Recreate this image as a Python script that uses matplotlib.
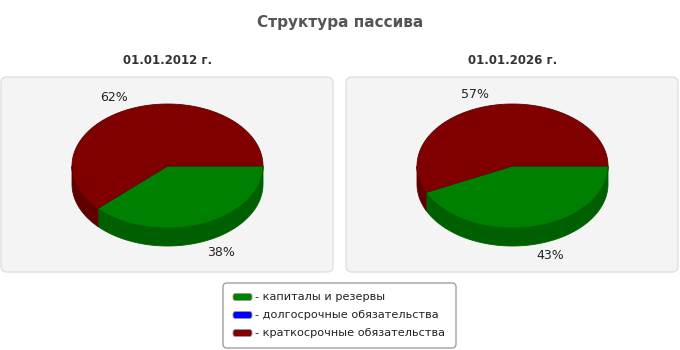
import numpy as np
import matplotlib
matplotlib.use("Agg")
import matplotlib.pyplot as plt
from matplotlib.patches import Polygon, FancyBboxPatch

# data
categories = ["капиталы и резервы", "долгосрочные обязательства", "краткосрочные обязательства"]
colors = ["#008000", "#0000ff", "#800000"]
side_colors = ["#005f00", "#0000a0", "#5f0000"]
dates = ["01.01.2012 г.", "01.01.2026 г."]
shares_2012 = [38, 0, 62]
shares_2026 = [43, 0, 57]
title = "Структура пассива"

plt.rcParams["font.family"] = ["DejaVu Sans"]

fig = plt.figure(figsize=(6.8, 3.5), dpi=100)
ax = fig.add_axes([0, 0, 1, 1])
ax.set_xlim(0, 680)
ax.set_ylim(350, 0)
ax.axis("off")


def arc(cx, cy, rx, ry, a0, a1, n=100):
    t = np.linspace(a0, a1, n)
    return np.column_stack([cx + rx * np.cos(t), cy + ry * np.sin(t)])


def draw_pie(ax, cx, cy, values, rx=95.5, ry=62, depth=18):
    total = float(sum(values))
    angles = np.cumsum([0] + [v / total * 2 * np.pi for v in values])
    # side walls (front half only)
    for i, v in enumerate(values):
        if v == 0:
            continue
        s0, s1 = max(angles[i], 0), min(angles[i + 1], np.pi)
        if s1 <= s0:
            continue
        top = arc(cx, cy, rx, ry, s0, s1)
        bot = top[::-1] + [0, depth]
        ax.add_patch(Polygon(np.vstack([top, bot]), closed=True,
                             fc=side_colors[i], ec=side_colors[i], lw=0.6))
    # top faces
    for i, v in enumerate(values):
        if v == 0:
            continue
        pts = np.vstack([[cx, cy], arc(cx, cy, rx, ry, angles[i], angles[i + 1])])
        ax.add_patch(Polygon(pts, closed=True, fc=colors[i], ec=side_colors[i], lw=0.6))
    # percent labels
    for i, v in enumerate(values):
        if v == 0:
            continue
        mid = (angles[i] + angles[i + 1]) / 2
        c, s = np.cos(mid), np.sin(mid)
        lx = cx + 1.13 * rx * c
        ly = cy + 1.18 * ry * s + (depth if s > 0 else 0)
        ax.text(lx, ly, "%d%%" % v, ha="left" if c > 0 else "right",
                va="center", fontsize=9, color="#222222")


fig.text(0.5, 1 - 22 / 350, title, ha="center", va="center",
         fontsize=11, fontweight="bold", color="#555555")

for k, (date, vals, cx) in enumerate(zip(dates, [shares_2012, shares_2026], [167.5, 512.5])):
    x0 = 1 if k == 0 else 346
    ax.add_patch(FancyBboxPatch((x0, 77), 332, 195,
                                boxstyle="round,pad=0,rounding_size=6",
                                fc="#f4f4f4", ec="#e0e0e0", lw=1))
    ax.text(cx, 60, date, ha="center", va="center", fontsize=8.5,
            fontweight="bold", color="#333333")
    draw_pie(ax, cx, 166, vals)

# legend
ax.add_patch(FancyBboxPatch((223, 283), 233, 65,
                            boxstyle="round,pad=0,rounding_size=4",
                            fc="white", ec="#a0a0a0", lw=1))
for i, name in enumerate(categories):
    y = 297 + 18 * i
    ax.add_patch(FancyBboxPatch((233, y - 3.5), 19, 7,
                                boxstyle="round,pad=0,rounding_size=2.5",
                                fc=colors[i], ec="#999999", lw=0.6))
    ax.text(255, y, "- " + name, ha="left", va="center", fontsize=8.1,
            color="#222222")

fig.savefig("out.png", dpi=100)
